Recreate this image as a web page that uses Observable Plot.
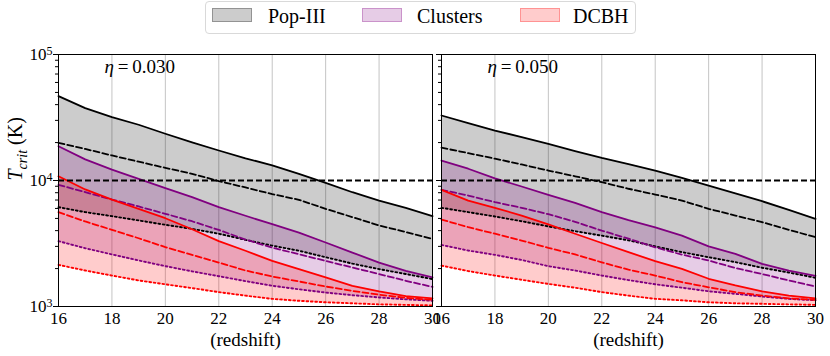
<!DOCTYPE html>
<html><head><meta charset="utf-8">
<script src="https://cdn.jsdelivr.net/npm/d3@7"></script>
<script src="https://cdn.jsdelivr.net/npm/@observablehq/plot@0.6"></script>
<style>
body{margin:0;background:#fff;}
#wrap{position:relative;width:830px;height:356px;font-family:"Liberation Serif",serif;overflow:hidden;}
#wrap svg{position:absolute;left:0;top:0;}
#wrap svg text, #wrap svg g{font-family:"Liberation Serif","Times New Roman",serif !important;font-variant:normal !important;}
#legend{position:absolute;left:205px;top:1px;width:429px;height:31px;border:1px solid #d9d9d9;border-radius:4px;background:#fff;}
.sw{position:absolute;top:6px;width:40px;height:14px;box-sizing:border-box;}
.lb{position:absolute;top:4px;font-size:20px;line-height:20px;color:#000;white-space:nowrap;}
</style></head><body><div id="wrap"></div>
<script>
// ---- data ----
const redshift = [16,17,18,19,20,21,22,23,24,25,26,27,28,29,30];
const xTicks = [16,18,20,22,24,26,28,30];
const gridTicks = [18,20,22,24,26,28];
const yMajor = [1e3,1e4,1e5];
const yMinor = [2e3,3e3,4e3,5e3,6e3,7e3,8e3,9e3,2e4,3e4,4e4,5e4,6e4,7e4,8e4,9e4];
const thresholdT = [1e4];
const etaLabels = ["0.030","0.050"];
const groupNames = ["Pop-III","Clusters","DCBH"];
const groupColors = ["black","purple","red"];

// eta = 0.030
const popHi030  = [46700,37500,31800,27700,23500,20100,17300,15000,13200,11300,9580,8070,6930,6060,5210];
const popMid030 = [19900,17800,15800,14100,12600,11300,9900,8800,7800,7030,5960,5120,4400,3900,3440];
const popLo030  = [6140,5610,5210,4820,4450,4130,3780,3380,3040,2770,2460,2190,1980,1810,1650];
const cluHi030  = [18700,14700,12200,10300,8690,7380,6140,5250,4500,3860,3220,2680,2230,1920,1700];
const cluMid030 = [9240,8080,7060,6220,5440,4750,4050,3400,2930,2600,2300,2040,1810,1600,1430];
const cluLo030  = [3300,2900,2590,2320,2090,1900,1740,1590,1460,1370,1290,1230,1180,1140,1110];
const dcbHi030  = [10800,8490,7060,5960,5020,4100,3300,2770,2300,1980,1700,1460,1320,1210,1160];
const dcbMid030 = [5610,4730,4060,3480,2960,2570,2230,1930,1730,1580,1440,1330,1240,1170,1130];
const dcbLo030  = [2140,1930,1760,1610,1500,1400,1300,1220,1150,1110,1080,1060,1040,1030,1020];

// eta = 0.050
const popHi050  = [32800,28500,24900,22100,19500,17100,15100,13500,12000,10500,9120,7920,6850,5850,4960];
const popMid050 = [18200,16500,14900,13400,12000,10800,9700,8600,7740,6930,5960,5270,4670,4060,3550];
const popLo050  = [6070,5610,5180,4750,4320,3960,3650,3350,3000,2700,2460,2250,2030,1860,1690];
const cluHi050  = [14400,12400,10400,8960,7690,6650,5610,4850,4250,3650,3000,2620,2180,1930,1750];
const cluMid050 = [8430,7600,6730,6070,5400,4700,4000,3450,2950,2580,2320,2020,1810,1610,1440];
const cluLo050  = [3080,2780,2570,2340,2090,1930,1760,1620,1500,1410,1320,1260,1200,1150,1120];
const dcbHi050  = [8430,6930,6070,5270,4480,3780,3190,2700,2290,1990,1660,1470,1320,1220,1160];
const dcbMid050 = [4900,4260,3780,3340,2920,2590,2240,1960,1760,1560,1420,1300,1220,1160,1130];
const dcbLo050  = [2110,1910,1760,1630,1510,1410,1300,1220,1150,1120,1080,1060,1050,1040,1030];

const panels = [
  {eta: etaLabels[0], pop:[popHi030,popMid030,popLo030], clu:[cluHi030,cluMid030,cluLo030], dcb:[dcbHi030,dcbMid030,dcbLo030]},
  {eta: etaLabels[1], pop:[popHi050,popMid050,popLo050], clu:[cluHi050,cluMid050,cluLo050], dcb:[dcbHi050,dcbMid050,dcbLo050]}
];
const keys = ["pop","clu","dcb"];

const FONT = '"Liberation Serif", "Times New Roman", serif';
const SVGNS = "http://www.w3.org/2000/svg";

function ts(text, attrs) {
  const t = document.createElementNS(SVGNS, "tspan");
  for (const k in attrs) t.setAttribute(k, attrs[k]);
  t.textContent = text;
  return t;
}

function richify(svg) {
  svg.querySelectorAll("text").forEach(t => {
    const s = t.textContent;
    let m;
    if ((m = s.match(/^10\^(\d)$/))) {
      t.textContent = "";
      t.appendChild(ts("10", {}));
      t.appendChild(ts(m[1], {"font-size": 12, dy: "-0.45em"}));
    } else if (s.startsWith("eta:")) {
      t.textContent = "";
      t.appendChild(ts("\u03B7", {"font-style": "italic"}));
      t.appendChild(ts("\u2009=\u2009" + s.slice(4), {}));
    } else if (s === "T_crit (K)") {
      t.textContent = "";
      t.appendChild(ts("T", {"font-style": "italic"}));
      t.appendChild(ts("crit", {"font-style": "italic", "font-size": 14, dy: "5"}));
      t.appendChild(ts(" (K)", {dy: "-5"}));
    }
  });
}

function panel(p, idx) {
  const rows = redshift.map((z, i) => {
    const r = {z};
    for (const k of keys) { r[k+"Hi"] = p[k][0][i]; r[k+"Mid"] = p[k][1][i]; r[k+"Lo"] = p[k][2][i]; }
    return r;
  });
  const marks = [Plot.gridX(gridTicks, {stroke: "#b0b0b0", strokeOpacity: 0.75, strokeWidth: 1})];
  keys.forEach((k, gi) => marks.push(Plot.areaY(rows, {x: "z", y1: k+"Lo", y2: k+"Hi", fill: groupColors[gi], fillOpacity: 0.2})));
  keys.forEach((k, gi) => {
    const c = groupColors[gi];
    marks.push(Plot.lineY(rows, {x: "z", y: k+"Hi", stroke: c, strokeWidth: 1.8}));
    marks.push(Plot.lineY(rows, {x: "z", y: k+"Mid", stroke: c, strokeWidth: 1.8, strokeDasharray: "6,3"}));
    marks.push(Plot.lineY(rows, {x: "z", y: k+"Lo", stroke: c, strokeWidth: 1.9, strokeDasharray: "1.8,2.6"}));
  });
  marks.push(Plot.ruleY(thresholdT, {stroke: "black", strokeWidth: 2, strokeDasharray: "6,3"}));
  marks.push(Plot.frame({stroke: "black", strokeWidth: 1}));
  marks.push(Plot.axisX({ticks: xTicks, tickSize: 0, tickPadding: 5, fontSize: 17, label: null}));
  marks.push(Plot.axisY({ticks: yMajor, tickSize: 5, tickPadding: 1, fontSize: 17, label: null,
    tickFormat: d => "10^" + Math.round(Math.log10(d)), fill: idx === 0 ? "currentColor" : "none"}));
  marks.push(Plot.axisY({ticks: yMinor, tickSize: 3, fill: "none", label: null}));
  marks.push(Plot.text(["eta:" + p.eta], {text: d => d, frameAnchor: "top-left", dx: 46, dy: 12, fontSize: 19, textAnchor: "start", lineAnchor: "middle"}));
  marks.push(Plot.text(["(redshift)"], {text: d => d, frameAnchor: "bottom", dy: 33, fontSize: 19, lineAnchor: "middle"}));
  if (idx === 0) marks.push(Plot.text(["T_crit (K)"], {text: d => d, frameAnchor: "left", dx: -43, rotate: -90, fontSize: 20, lineAnchor: "middle"}));
  const svg = Plot.plot({
    width: 830, height: 356,
    marginTop: 54, marginBottom: 50,
    marginLeft: idx === 0 ? 58 : 441,
    marginRight: idx === 0 ? 398 : 15,
    x: {domain: [16, 30], label: null},
    y: {type: "log", domain: [1e3, 1e5], label: null},
    style: {background: "transparent", overflow: "visible", fontFamily: FONT, fontSize: "17px", color: "black"},
    marks
  });
  richify(svg);
  return svg;
}

const wrap = document.getElementById("wrap");
panels.forEach((p, i) => wrap.appendChild(panel(p, i)));

// legend
const legend = document.createElement("div");
legend.id = "legend";
const swLeft = [6, 156, 314];
const lbLeft = [62, 211, 367];
groupNames.forEach((name, i) => {
  const sw = document.createElement("div");
  sw.className = "sw";
  sw.style.left = swLeft[i] + "px";
  const c = d3.color(groupColors[i]);
  const f = c.copy({opacity: 0.2}), b = c.copy({opacity: 0.28});
  sw.style.background = f.formatRgb();
  sw.style.border = "1px solid " + b.formatRgb();
  legend.appendChild(sw);
  const lb = document.createElement("div");
  lb.className = "lb";
  lb.style.left = lbLeft[i] + "px";
  lb.textContent = name;
  legend.appendChild(lb);
});
wrap.appendChild(legend);
</script>
</body></html>
